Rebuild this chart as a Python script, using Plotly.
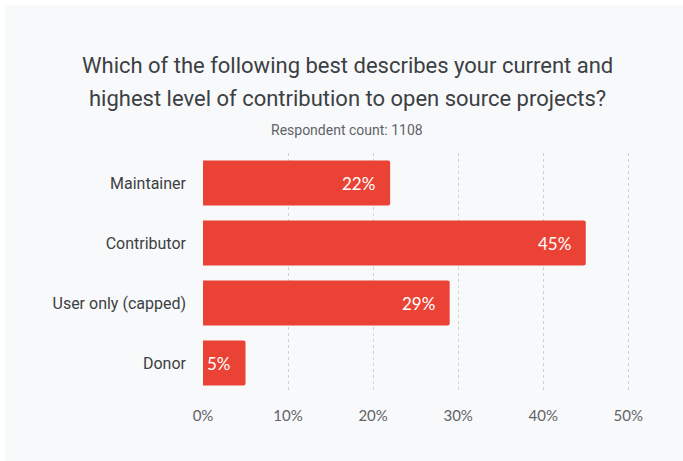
import plotly.graph_objects as go

# Survey responses: highest level of open source contribution
categories = ["Maintainer", "Contributor", "User only (capped)", "Donor"]
shares = [22, 45, 29, 5]
tick_values = [0, 10, 20, 30, 40, 50]
tick_labels = ["0%", "10%", "20%", "30%", "40%", "50%"]

title_lines = [
    "Which of the following best describes your current and",
    "highest level of contribution to open source projects?",
]
subtitle = "Respondent count: 1108"

W, H = 683, 461
BAR_RED = "#ea4335"
CARD = "#f8f9fa"
DARK = "#3c4043"
MUTED = "#5f6368"
FONT = "Roboto, 'Noto Sans', sans-serif"

fig = go.Figure()

fig.add_trace(go.Bar(
    x=shares,
    y=categories,
    orientation="h",
    marker=dict(color=BAR_RED, line=dict(width=0)),
    hoverinfo="skip",
))

# value labels inside the bar ends
for cat, val in zip(categories, shares):
    fig.add_annotation(
        x=val, y=cat, xref="x", yref="y",
        text=f"{val}%", showarrow=False,
        xanchor="right", xshift=-13,
        font=dict(family="Lato, Roboto, sans-serif", size=17, color="white"),
    )

# light card behind the chart
fig.add_shape(
    type="rect", xref="paper", yref="paper",
    x0=-(203 - 5) / 427, x1=(683 - 203) / 427,
    y0=-(461 - 393) / 240 - 0.01, y1=(393 - 5) / 240,
    fillcolor=CARD, line=dict(width=0), layer="below",
)

# title and subtitle, positioned in pixels from the top of the page
def y_paper(px):
    return (393 - px) / 240

def x_paper(px):
    return (px - 203) / 427

for line, ypx in zip(title_lines, [66, 99]):
    fig.add_annotation(
        x=x_paper(347), y=y_paper(ypx), xref="paper", yref="paper",
        text=line, showarrow=False, xanchor="center", yanchor="middle",
        font=dict(family=FONT, size=22, color=DARK),
    )
fig.add_annotation(
    x=x_paper(347), y=y_paper(130), xref="paper", yref="paper",
    text=subtitle, showarrow=False, xanchor="center", yanchor="middle",
    font=dict(family=FONT, size=14, color=MUTED),
)

fig.update_layout(
    width=W, height=H,
    margin=dict(l=203, r=53, t=153, b=68),
    paper_bgcolor="white",
    plot_bgcolor=CARD,
    bargap=0.25,
    barcornerradius=2,
    showlegend=False,
    xaxis=dict(
        range=[0, 50.2],
        tickvals=tick_values,
        ticktext=tick_labels,
        showgrid=True,
        gridcolor="#cfd1d4",
        griddash="dot",
        gridwidth=1,
        zeroline=False,
        showline=False,
        ticks="",
        ticklabelstandoff=12,
        tickfont=dict(family="Lato, Roboto, sans-serif", size=15, color=MUTED),
        fixedrange=True,
    ),
    yaxis=dict(
        categoryorder="array",
        categoryarray=categories[::-1],
        showgrid=False,
        zeroline=False,
        showline=False,
        ticks="",
        ticklabelstandoff=16,
        tickfont=dict(family=FONT, size=16, color=DARK),
        fixedrange=True,
    ),
)

fig.write_html("out.html")
